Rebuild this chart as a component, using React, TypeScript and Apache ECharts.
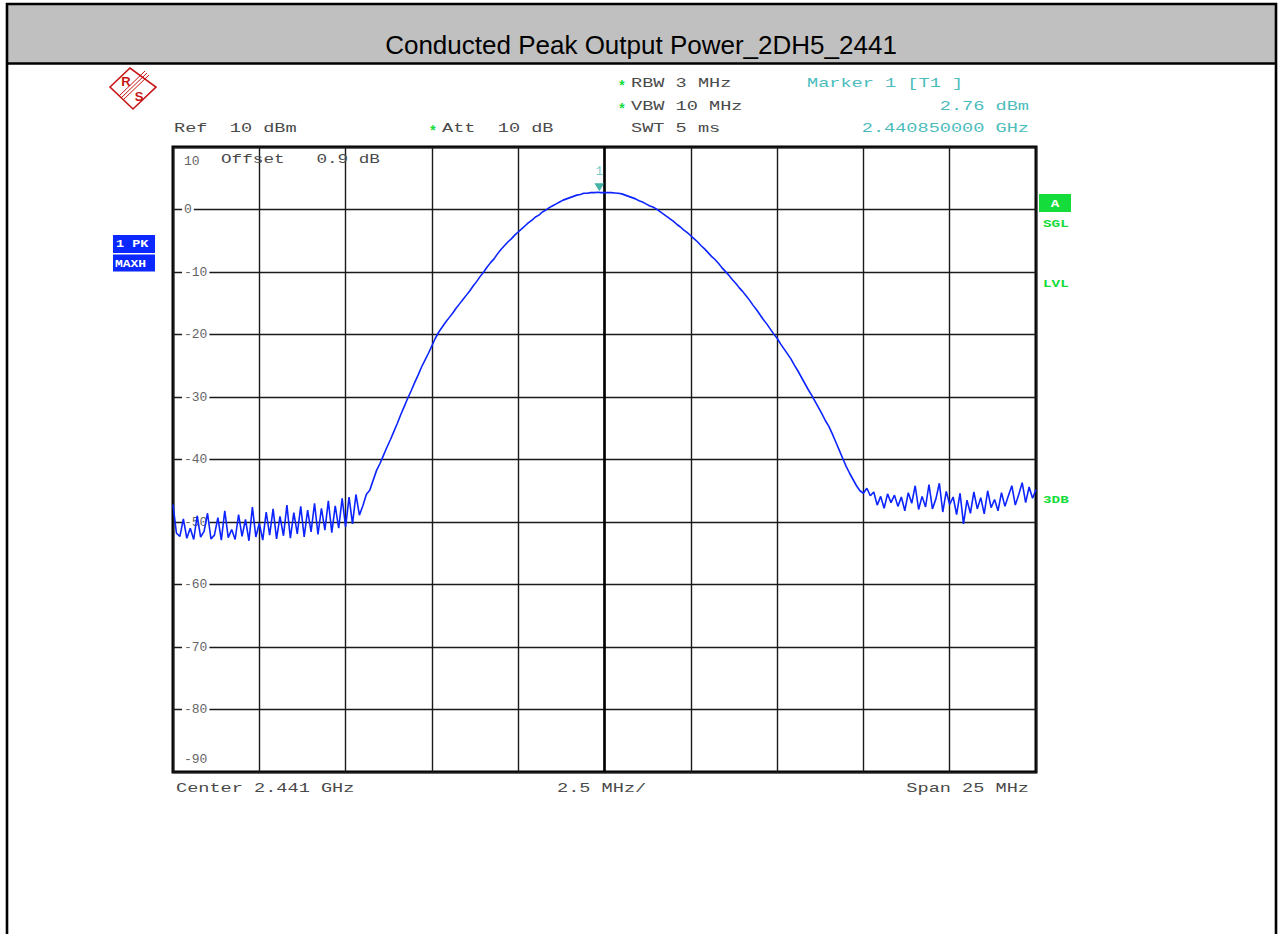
import React, { useEffect, useRef } from 'react';
import * as echarts from 'echarts';

// ---------- data ----------
const TITLE = 'Conducted Peak Output Power_2DH5_2441';
// sweep: 2.4285 GHz .. 2.4535 GHz, x axis as offset from centre (MHz)
const SPAN_START_OFFSET_MHZ = -12.5;
const SWEEP_STEP_MHZ = 0.1;
const X_TICK_STEP = 2.5;
const Y_MIN = -90;
const Y_MAX = 10;
const Y_STEP = 10;

// trace values (dBm)
const leftNoise = [
  -47.2, -51.8, -52.3, -49.5, -52.6, -51.0, -52.8, -49.0, -52.4, -51.5,
  -48.6, -52.7, -52.1, -49.3, -52.9, -48.2, -52.5, -51.2, -52.8, -48.8,
  -52.3, -49.6, -53.0, -47.6, -52.4, -50.2, -52.9, -48.4, -52.1, -47.9,
  -52.7, -49.1, -52.2, -47.3, -52.6, -48.5, -51.9, -47.5, -52.4, -48.1,
  -51.6, -47.0, -52.0, -47.8, -51.3, -46.6, -51.7, -47.4, -51.0, -46.2,
  -50.8, -46.0, -50.3, -45.6, -48.9,
];
const mainLobe = [
  -47.4, -45.6, -44.9, -43.3, -41.7,
  -40.6, -39.3, -38.0, -36.8, -35.5, -34.2, -32.8, -31.5, -30.2, -29.0,
  -27.7, -26.5, -25.2, -24.1, -23.0, -21.8, -20.6, -19.6, -18.8, -18.0,
  -17.3, -16.6, -15.8, -15.1, -14.4, -13.7, -13.0, -12.2, -11.5, -10.7,
  -10.0, -9.2, -8.5, -7.9, -7.1, -6.4, -5.8, -5.2, -4.7, -4.1,
  -3.6, -3.1, -2.6, -2.1, -1.7, -1.2, -0.9, -0.4, -0.1, 0.3,
  0.6, 0.9, 1.2, 1.5, 1.7, 1.9, 2.1, 2.3, 2.4, 2.6,
  2.6, 2.7, 2.7, 2.76, 2.7, 2.7, 2.7, 2.7, 2.65, 2.6,
  2.5, 2.3, 2.1, 1.9, 1.7, 1.4, 1.2, 0.9, 0.6, 0.4,
  0.1, -0.3, -0.7, -1.1, -1.5, -1.9, -2.4, -2.8, -3.3, -3.7,
  -4.2, -4.7, -5.2, -5.8, -6.3, -6.9, -7.5, -8.0, -8.6, -9.3,
  -9.9, -10.5, -11.2, -11.8, -12.5, -13.1, -13.8, -14.5, -15.3, -16.0,
  -16.8, -17.6, -18.3, -19.1, -19.9, -20.6, -21.5, -22.3, -23.1, -23.9,
  -24.9, -25.8, -26.8, -27.8, -28.8, -29.7, -30.7, -31.7, -32.7, -33.8,
  -34.7, -35.9, -37.2, -38.5, -39.8, -41.1, -42.2, -43.2, -44.2, -45.0,
];
const rightNoise = [
  -45.4, -44.6, -45.8, -45.2, -47.3, -45.9, -47.8, -45.5, -46.9, -45.7,
  -47.5, -46.0, -48.2, -45.3, -47.0, -44.2, -48.0, -45.9, -47.6, -44.0,
  -47.9, -46.3, -43.8, -48.4, -45.1, -47.2, -46.0, -48.8, -45.4, -50.3,
  -46.5, -48.6, -45.2, -47.9, -46.1, -48.7, -45.0, -47.7, -46.4, -48.2,
  -45.3, -47.5, -45.8, -44.2, -47.3, -45.6, -43.7, -46.9, -44.4, -46.2,
  -44.8,
];
const MARKER_OFFSET_MHZ = -0.15; // 2.440850000 GHz
const MARKER_LEVEL = 2.76;

const traceValues = [...leftNoise, ...mainLobe, ...rightNoise];
const traceData = traceValues.map((v, i) => [
  +(SPAN_START_OFFSET_MHZ + i * SWEEP_STEP_MHZ).toFixed(2),
  v,
]);

// ---------- styles ----------
const MONO = 'Liberation Mono';
const GREY = '#4a4a4a';
const CYAN = '#4bbcbc';
const GREEN = '#14dc3a';
const BLUE = '#0c24ff';

const monoText = (
  text: string,
  x: number,
  y: number,
  fill: string = GREY,
  align: string = 'left',
  size: number = 13,
  sx: number = 1.43,
  bold = false,
) => ({
  type: 'text',
  x,
  y,
  scaleX: sx,
  silent: true,
  z: 10,
  style: {
    text,
    fill,
    fontFamily: MONO,
    fontSize: size,
    fontWeight: bold ? 'bold' : 'normal',
    align,
    verticalAlign: 'middle',
  },
});

const star = (x: number, y: number) => ({
  type: 'text',
  x,
  y: y + 3,
  silent: true,
  z: 10,
  style: { text: '*', fill: GREEN, fontFamily: MONO, fontSize: 14, fontWeight: 'bold', align: 'center', verticalAlign: 'middle' },
});

export default function App() {
  const ref = useRef<HTMLDivElement>(null);
  useEffect(() => {
    if (!ref.current) return;
    const chart = echarts.init(ref.current, undefined, { renderer: 'svg' });
    const option: any = {
      animation: false,
      backgroundColor: '#ffffff',
      grid: {
        left: 173,
        top: 147,
        right: 243,
        bottom: 162,
        show: true,
        borderColor: '#000',
        borderWidth: 3,
        backgroundColor: 'transparent',
      },
      xAxis: {
        type: 'value',
        min: SPAN_START_OFFSET_MHZ,
        max: -SPAN_START_OFFSET_MHZ,
        interval: X_TICK_STEP,
        axisLine: { show: false },
        axisTick: { show: false },
        axisLabel: { show: false },
        splitLine: { show: true, lineStyle: { color: '#1a1a1a', width: 1.4 } },
      },
      yAxis: {
        type: 'value',
        min: Y_MIN,
        max: Y_MAX,
        interval: Y_STEP,
        axisLine: { show: false },
        axisTick: { show: false },
        splitLine: { show: true, lineStyle: { color: '#1a1a1a', width: 1.4 } },
        axisLabel: {
          inside: true,
          margin: 9,
          showMinLabel: true,
          showMaxLabel: true,
          formatter: (v: number) =>
            v === Y_MAX ? `{top|${v}}` : v === Y_MIN ? `{bot|${v}}` : `{mid|${v}}`,
          rich: {
            mid: { backgroundColor: '#fff', padding: [1, 2, 1, 2], color: '#666', fontFamily: MONO, fontSize: 13 },
            top: { padding: [28, 2, 0, 2], color: '#666', fontFamily: MONO, fontSize: 13 },
            bot: { padding: [0, 2, 26, 2], color: '#666', fontFamily: MONO, fontSize: 13 },
          },
        },
      },
      series: [
        {
          type: 'line',
          data: traceData,
          showSymbol: false,
          symbol: 'none',
          lineStyle: { color: BLUE, width: 1.6 },
          z: 5,
          markLine: {
            silent: true,
            symbol: ['none', 'none'],
            label: { show: false },
            lineStyle: { color: '#000', width: 2.6, type: 'solid' },
            data: [{ xAxis: 0 }],
            z: 2,
          },
        },
        {
          type: 'scatter',
          data: [[MARKER_OFFSET_MHZ, MARKER_LEVEL]],
          symbol: 'triangle',
          symbolRotate: 180,
          symbolSize: [10, 8],
          symbolOffset: [0, -5],
          itemStyle: { color: '#17a090' },
          z: 6,
          label: {
            show: true,
            position: 'top',
            distance: 5,
            formatter: '1',
            color: CYAN,
            fontFamily: MONO,
            fontSize: 12,
          },
        },
      ],
      graphic: [
        // page frame & title bar
        { type: 'rect', silent: true, z: 0, shape: { x: 7, y: 4, width: 1269, height: 59 }, style: { fill: '#c0c0c0' } },
        { type: 'rect', silent: true, z: 1, shape: { x: 7, y: 4, width: 1269, height: 980 }, style: { fill: 'none', stroke: '#000', lineWidth: 2.6 } },
        { type: 'line', silent: true, z: 1, shape: { x1: 7, y1: 63.5, x2: 1276, y2: 63.5 }, style: { stroke: '#000', lineWidth: 2.6 } },
        {
          type: 'text', silent: true, z: 2, x: 641, y: 45,
          style: { text: TITLE, fill: '#000', fontFamily: 'Liberation Sans', fontSize: 26, align: 'center', verticalAlign: 'middle' },
        },
        // R&S logo
        {
          type: 'polygon', silent: true, z: 2,
          shape: { points: [[110, 87], [130, 68], [156, 87], [133, 109]] },
          style: { fill: 'none', stroke: '#c81414', lineWidth: 1.6 },
        },
        { type: 'line', silent: true, z: 2, shape: { x1: 145, y1: 71, x2: 119, y2: 96 }, style: { stroke: '#c81414', lineWidth: 1 } },
        { type: 'line', silent: true, z: 2, shape: { x1: 147, y1: 73, x2: 121, y2: 98 }, style: { stroke: '#c81414', lineWidth: 1 } },
        { type: 'line', silent: true, z: 2, shape: { x1: 149, y1: 75, x2: 123, y2: 100 }, style: { stroke: '#c81414', lineWidth: 1 } },
        {
          type: 'text', silent: true, z: 2, x: 126, y: 81,
          style: { text: 'R', fill: '#c81414', fontFamily: 'Liberation Sans', fontWeight: 'bold', fontSize: 13, align: 'center', verticalAlign: 'middle' },
        },
        {
          type: 'text', silent: true, z: 2, x: 139, y: 96,
          style: { text: 'S', fill: '#c81414', fontFamily: 'Liberation Sans', fontWeight: 'bold', fontSize: 13, align: 'center', verticalAlign: 'middle' },
        },
        // header settings
        star(622, 84),
        monoText('RBW 3 MHz', 631, 84),
        star(622, 107),
        monoText('VBW 10 MHz', 631, 107),
        monoText('SWT 5 ms', 631, 129),
        monoText('Ref  10 dBm', 174, 129),
        star(433, 129),
        monoText('Att  10 dB', 442, 129),
        monoText('Marker 1 [T1 ]', 807, 84, CYAN),
        monoText('2.76 dBm', 1029, 107, CYAN, 'right'),
        monoText('2.440850000 GHz', 1029, 129, CYAN, 'right'),
        monoText('Offset   0.9 dB', 221, 160, GREY, 'left', 13, 1.36),
        // footer
        monoText('Center 2.441 GHz', 176, 789),
        monoText('2.5 MHz/', 557, 789),
        monoText('Span 25 MHz', 1029, 789, GREY, 'right'),
        // left trace boxes
        { type: 'rect', silent: true, z: 2, shape: { x: 113, y: 235, width: 42, height: 18 }, style: { fill: '#0a28ff' } },
        monoText('1 PK', 116, 244.5, '#fff', 'left', 10, 1.35, true),
        { type: 'rect', silent: true, z: 2, shape: { x: 113, y: 254.5, width: 42, height: 17 }, style: { fill: '#0a28ff' } },
        monoText('MAXH', 115, 263.5, '#fff', 'left', 10, 1.3, true),
        // right status
        { type: 'rect', silent: true, z: 2, shape: { x: 1039, y: 194, width: 32, height: 18 }, style: { fill: GREEN } },
        monoText('A', 1055, 203.5, '#fff', 'center', 11, 1.3, true),
        monoText('SGL', 1043, 224, GREEN, 'left', 11, 1.3, true),
        monoText('LVL', 1043, 284, GREEN, 'left', 11, 1.3, true),
        monoText('3DB', 1043, 500, GREEN, 'left', 11, 1.3, true),
      ],
    };
    chart.setOption(option);
    return () => chart.dispose();
  }, []);
  return (
    <div
      ref={ref}
      style={{ position: 'absolute', left: 0, top: 0, width: 1279, height: 934 }}
    />
  );
}
